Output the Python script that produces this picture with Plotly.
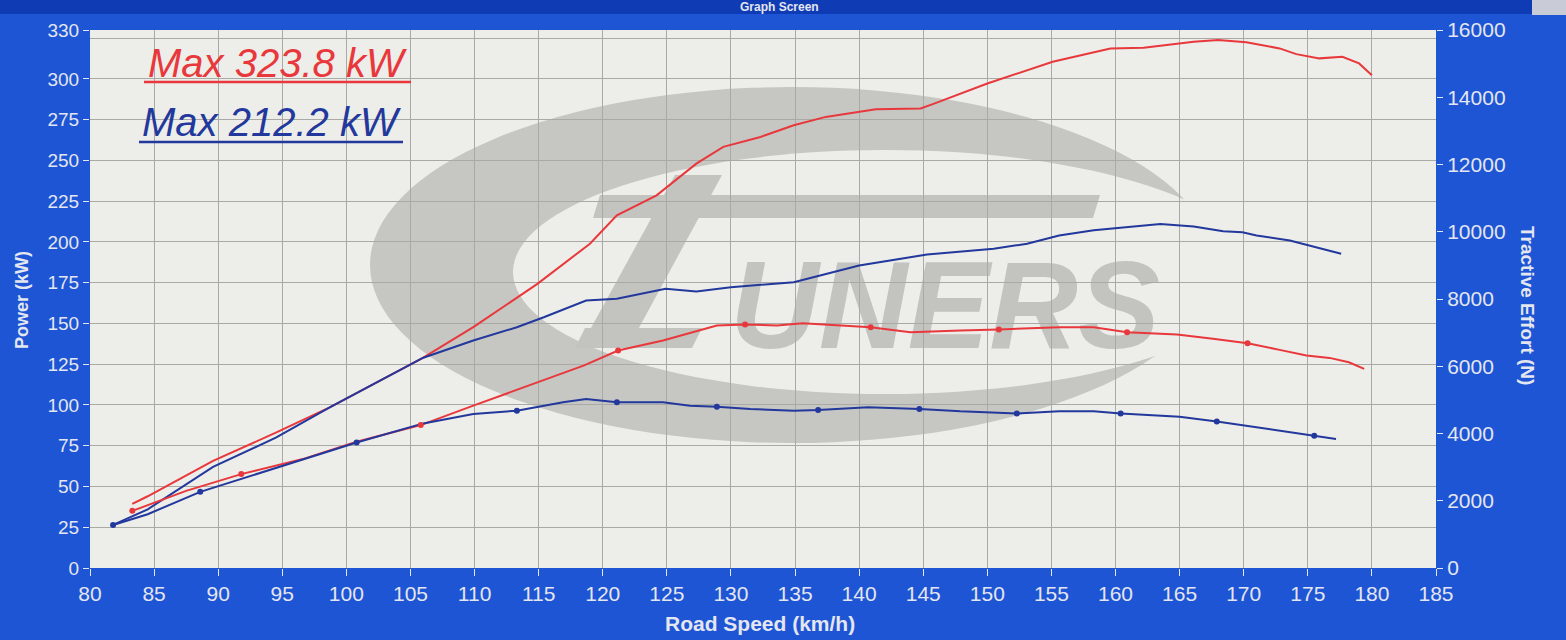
import base64
import plotly.graph_objects as go

# ---------------- data ----------------
speed_red_power = [83.3, 84.5, 89.6, 94.5, 98.7, 106.0, 109.9, 114.9, 119.0, 121.1, 124.2, 127.3,
                   129.4, 132.3, 134.9, 137.4, 141.3, 144.8, 145.8, 150.0, 155.1, 159.6, 162.2,
                   166.1, 168.0, 170.2, 172.8, 174.1, 175.9, 177.7, 179.0, 180.0]
red_power_kw = [39.3, 44.0, 65.7, 83.0, 98.5, 129.0, 147.7, 174.3, 198.9, 216.3, 228.6, 248.0,
                258.3, 264.4, 271.6, 276.7, 281.4, 281.9, 284.7, 297.2, 310.5, 318.7, 319.1,
                322.8, 323.8, 322.5, 318.7, 315.2, 312.6, 313.6, 309.5, 302.3]

speed_blue_power = [81.8, 84.5, 89.6, 94.5, 98.7, 106.0, 109.9, 113.3, 115.4, 118.7, 121.1, 124.9,
                    127.3, 130.0, 134.9, 140.0, 145.3, 150.5, 153.1, 155.6, 158.3, 161.4, 163.5,
                    166.1, 168.4, 169.9, 171.0, 173.6, 175.9, 177.6]
blue_power_kw = [26.4, 36.0, 62.0, 80.0, 98.5, 129.0, 139.5, 147.7, 153.8, 164.1, 165.1, 171.3,
                 169.6, 172.2, 175.3, 185.6, 192.3, 195.8, 198.9, 204.0, 207.1, 209.7, 211.0,
                 209.5, 206.5, 206.0, 204.0, 200.9, 196.4, 192.7]

speed_red_te = [83.3, 87.5, 91.8, 96.6, 100.8, 105.8, 109.9, 114.9, 118.5, 121.2, 124.7, 128.9,
                131.1, 133.6, 135.6, 140.9, 144.0, 147.9, 150.9, 155.6, 158.3, 160.9, 164.8,
                167.6, 170.3, 172.8, 174.9, 176.7, 178.2, 179.4]
red_te_n = [1699, 2295, 2792, 3239, 3755, 4250, 4828, 5522, 6020, 6467, 6765, 7212,
            7241, 7212, 7280, 7161, 7012, 7063, 7092, 7161, 7161, 7012, 6943,
            6815, 6684, 6487, 6318, 6249, 6118, 5921]

speed_blue_te = [81.8, 84.5, 88.6, 94.5, 100.8, 106.0, 109.9, 113.3, 116.9, 118.7, 121.1, 124.7,
                 126.8, 128.9, 131.5, 134.9, 136.8, 140.7, 144.7, 147.9, 152.3, 155.6, 158.3,
                 160.4, 163.5, 165.0, 167.9, 170.2, 172.8, 175.5, 177.2]
blue_te_n = [1281, 1600, 2265, 2971, 3734, 4300, 4580, 4679, 4926, 5027, 4926, 4926,
             4828, 4798, 4729, 4679, 4699, 4777, 4729, 4658, 4598, 4658, 4658,
             4598, 4530, 4500, 4360, 4232, 4083, 3934, 3835]

red_marker_speed = [83.3, 91.8, 105.8, 121.2, 131.1, 140.9, 150.9, 160.9, 170.3]
red_marker_n = [1699, 2792, 4250, 6467, 7241, 7161, 7092, 7012, 6684]
blue_marker_speed = [81.8, 88.6, 100.8, 113.3, 121.1, 128.9, 136.8, 144.7, 152.3, 160.4, 167.9, 175.5]
blue_marker_n = [1281, 2265, 3734, 4679, 4926, 4798, 4699, 4729, 4598, 4598, 4360, 3934]

x_ticks = list(range(80, 186, 5))
power_ticks = [0, 25, 50, 75, 100, 125, 150, 175, 200, 225, 250, 275, 300, 330]
te_ticks = list(range(0, 16001, 2000))

red_label = "Max 323.8 kW"
blue_label = "Max 212.2 kW"

# ---------------- styling ----------------
RED = "#E8383C"
BLUE = "#22389C"
FRAME = "#1D55D4"
PLOT_BG = "#EDEDE9"
GRID = "#A9A9A5"
TXT = "#E4E6F0"
W, H = 1566, 640
ML, MR, MT, MB = 90, 130, 30, 72
PW, PH = W - ML - MR, H - MT - MB

# watermark as an inline SVG (plot-area pixel frame)
svg = f'''<svg xmlns="http://www.w3.org/2000/svg" width="{PW}" height="{PH}" viewBox="0 0 {PW} {PH}" preserveAspectRatio="none">
<ellipse cx="702" cy="235" rx="422" ry="178" fill="#C6C6C3"/>
<ellipse cx="795" cy="242" rx="372" ry="122" fill="{PLOT_BG}"/>
<polygon points="510,165 1010,165 1003,188 503,188" fill="#C3C3C0"/>
<polygon points="585,145 632,145 538,318 490,318" fill="#C3C3C0"/>
<polygon points="495,298 612,298 602,318 485,318" fill="#C3C3C0"/>
<text x="640" y="318" font-family="Liberation Sans, Arial, sans-serif" font-weight="bold" font-style="italic"
 font-size="124" fill="#C3C3C0" textLength="430" lengthAdjust="spacingAndGlyphs">UNERS</text>
</svg>'''
svg_uri = "data:image/svg+xml;base64," + base64.b64encode(svg.encode()).decode()

fig = go.Figure()

fig.add_trace(go.Scatter(x=speed_red_power, y=red_power_kw, mode="lines",
                         line=dict(color=RED, width=2), yaxis="y", showlegend=False))
fig.add_trace(go.Scatter(x=speed_blue_power, y=blue_power_kw, mode="lines",
                         line=dict(color=BLUE, width=2), yaxis="y", showlegend=False))
fig.add_trace(go.Scatter(x=speed_red_te, y=red_te_n, mode="lines",
                         line=dict(color=RED, width=2), yaxis="y2", showlegend=False))
fig.add_trace(go.Scatter(x=speed_blue_te, y=blue_te_n, mode="lines",
                         line=dict(color=BLUE, width=2), yaxis="y2", showlegend=False))
fig.add_trace(go.Scatter(x=red_marker_speed, y=red_marker_n, mode="markers",
                         marker=dict(color=RED, size=6), yaxis="y2", showlegend=False))
fig.add_trace(go.Scatter(x=blue_marker_speed, y=blue_marker_n, mode="markers",
                         marker=dict(color=BLUE, size=6), yaxis="y2", showlegend=False))

tickfont = dict(family="Liberation Sans, Arial, sans-serif", size=20, color=TXT)

fig.update_layout(
    width=W, height=H,
    margin=dict(l=ML, r=MR, t=MT, b=MB, autoexpand=False),
    paper_bgcolor=FRAME, plot_bgcolor=PLOT_BG,
    xaxis=dict(range=[80, 185], tickvals=x_ticks, showgrid=True, gridcolor=GRID, gridwidth=1,
               ticks="outside", ticklen=7, tickcolor=TXT, tickfont=dict(tickfont, size=21),
               zeroline=False, showline=False, fixedrange=True),
    yaxis=dict(range=[0, 330], tickvals=power_ticks, showgrid=True, gridcolor=GRID, gridwidth=1,
               ticks="outside", ticklen=6, tickcolor=TXT, tickfont=dict(tickfont, size=19),
               ticklabelstandoff=0,
               minor=dict(tickvals=[325], showgrid=True, gridcolor=GRID, ticklen=0),
               zeroline=False, showline=False, fixedrange=True),
    yaxis2=dict(range=[0, 16000], tickvals=te_ticks, tickformat="d", overlaying="y", side="right",
                showgrid=False, ticks="outside", ticklen=6, tickcolor=TXT,
                tickfont=dict(tickfont, size=21), zeroline=False, showline=False, fixedrange=True),
    images=[dict(source=svg_uri, xref="paper", yref="paper", x=0, y=1, sizex=1, sizey=1,
                 sizing="stretch", xanchor="left", yanchor="top", layer="below")],
)


def px(xp):
    return (xp - ML) / PW


def py(yp):
    return (PH + MT - yp) / PH


# screen frame: title bar and window button
fig.add_shape(type="rect", xref="paper", yref="paper", x0=px(0), x1=px(W),
              y0=py(14), y1=py(0), fillcolor="#0F3CB4", line_width=0, layer="below")
fig.add_shape(type="rect", xref="paper", yref="paper", x0=px(1532), x1=px(W),
              y0=py(15), y1=py(0), fillcolor="#C9CCD6", line_width=0, layer="above")

# underlines for the max labels
fig.add_shape(type="line", xref="paper", yref="paper", x0=px(144), x1=px(411),
              y0=py(82), y1=py(82), line=dict(color=RED, width=2.5))
fig.add_shape(type="line", xref="paper", yref="paper", x0=px(139), x1=px(403),
              y0=py(142), y1=py(142), line=dict(color=BLUE, width=2.5))

ann_font = "Liberation Sans, Arial, sans-serif"
common = dict(xref="paper", yref="paper", showarrow=False, xanchor="center", yanchor="middle")
fig.add_annotation(text=red_label, x=px(277), y=py(63), **common,
                   font=dict(family=ann_font, size=40, color=RED, style="italic"))
fig.add_annotation(text=blue_label, x=px(271), y=py(122), **common,
                   font=dict(family=ann_font, size=40, color=BLUE, style="italic"))
fig.add_annotation(text="<b>Power (kW)</b>", x=px(22), y=py(300), textangle=-90, **common,
                   font=dict(family=ann_font, size=18, color=TXT))
fig.add_annotation(text="<b>Tractive Effort (N)</b>", x=px(1527), y=py(305), textangle=90, **common,
                   font=dict(family=ann_font, size=19, color=TXT))
fig.add_annotation(text="<b>Road Speed (km/h)</b>", x=px(760), y=py(623), **common,
                   font=dict(family=ann_font, size=21, color=TXT))
fig.add_annotation(text="<b>Graph Screen</b>", x=px(780), y=py(7), **common,
                   font=dict(family=ann_font, size=12, color=TXT))

fig.write_html("out.html", config={"displayModeBar": False},
               post_script="document.body.style.margin='0';document.body.style.overflow='hidden';")
